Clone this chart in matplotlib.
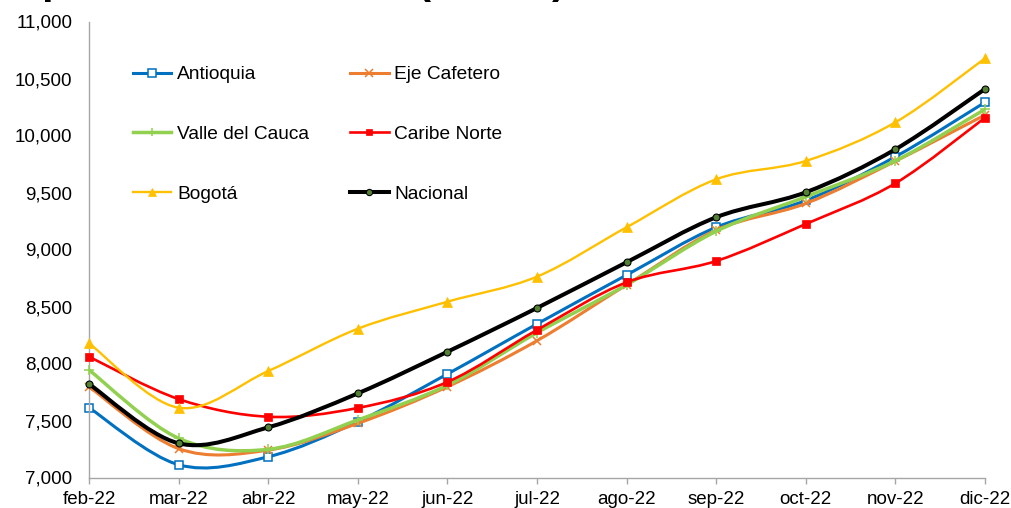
import matplotlib
matplotlib.use("Agg")
import matplotlib.pyplot as plt
from matplotlib.path import Path
from matplotlib.patches import PathPatch
from matplotlib.lines import Line2D
from matplotlib.ticker import FuncFormatter

plt.rcParams['font.family'] = ['Liberation Sans', 'DejaVu Sans']

# months on the x axis
months = ['feb-22', 'mar-22', 'abr-22', 'may-22', 'jun-22', 'jul-22',
          'ago-22', 'sep-22', 'oct-22', 'nov-22', 'dic-22']

# values
antioquia = [7612, 7112, 7182, 7490, 7908, 8347, 8776, 9195, 9430, 9814, 10291]
eje = [7795, 7253, 7240, 7475, 7796, 8200, 8690, 9170, 9404, 9775, 10180]
valle = [7943, 7344, 7247, 7505, 7810, 8270, 8690, 9160, 9463, 9779, 10230]
caribe = [8060, 7688, 7533, 7610, 7838, 8294, 8712, 8899, 9224, 9581, 10156]
bogota = [8177, 7612, 7934, 8305, 8542, 8762, 9195, 9616, 9777, 10116, 10677]
nacional = [7820, 7300, 7440, 7738, 8103, 8487, 8888, 9283, 9502, 9879, 10408]

yticks = [7000, 7500, 8000, 8500, 9000, 9500, 10000, 10500, 11000]


def smooth_path(xs, ys):
    # Excel-like smoothed line: cubic Bezier segments through the points
    pts = list(zip(xs, ys))
    verts = [pts[0]]
    codes = [Path.MOVETO]
    n = len(pts)
    for i in range(n - 1):
        p0 = pts[i - 1] if i > 0 else pts[i]
        p1 = pts[i]
        p2 = pts[i + 1]
        p3 = pts[i + 2] if i + 2 < n else pts[i + 1]
        c1 = (p1[0] + (p2[0] - p0[0]) / 6, p1[1] + (p2[1] - p0[1]) / 6)
        c2 = (p2[0] - (p3[0] - p1[0]) / 6, p2[1] - (p3[1] - p1[1]) / 6)
        verts += [c1, c2, p2]
        codes += [Path.CURVE4] * 3
    return Path(verts, codes)


series = [
    ('Antioquia', antioquia, dict(color='#0070C0', lw=2.2, marker='s', ms=6,
                                  mfc='white', mec='#0070C0', mew=1.1)),
    ('Eje Cafetero', eje, dict(color='#ED7D31', lw=2.2, marker='x', ms=6,
                               mfc='#ED7D31', mec='#ED7D31', mew=1.1)),
    ('Valle del Cauca', valle, dict(color='#92D050', lw=2.5, marker='+', ms=7,
                                    mfc='#92D050', mec='#92D050', mew=1.1)),
    ('Caribe Norte', caribe, dict(color='#FF0000', lw=1.9, marker='s', ms=5.5,
                                  mfc='#FF0000', mec='#FF0000', mew=0.5)),
    ('Bogotá', bogota, dict(color='#FFC000', lw=1.7, marker='^', ms=6.5,
                            mfc='#FFC000', mec='#FFC000', mew=0.5)),
    ('Nacional', nacional, dict(color='black', lw=2.9, marker='o', ms=5,
                                mfc='#548235', mec='black', mew=0.8)),
]

fig = plt.figure(figsize=(10.11, 5.08), dpi=100)
ax = fig.add_axes([89 / 1011, 1 - 477.5 / 508, (985 - 89) / 1011, (477.5 - 21.5) / 508])

x = list(range(len(months)))
handles = {}
for z, (name, vals, st) in enumerate(series):
    patch = PathPatch(smooth_path(x, vals), facecolor='none', edgecolor=st['color'],
                      lw=st['lw'], zorder=2 + z, capstyle='round', joinstyle='round')
    ax.add_patch(patch)
    ax.plot(x, vals, linestyle='none', marker=st['marker'], ms=st['ms'],
            mfc=st['mfc'], mec=st['mec'], mew=st['mew'], zorder=2.5 + z, clip_on=False)
    handles[name] = Line2D([], [], color=st['color'], lw=st['lw'], marker=st['marker'],
                           ms=st['ms'] * 0.9, mfc=st['mfc'], mec=st['mec'], mew=st['mew'])

ax.set_xlim(0, len(months) - 1)
ax.set_ylim(7000, 11000)
ax.set_xticks(x)
ax.set_xticklabels(months)
ax.set_yticks(yticks)
ax.yaxis.set_major_formatter(FuncFormatter(lambda v, p: f'{int(v):,}'))

for s in ['top', 'right']:
    ax.spines[s].set_visible(False)
for s in ['left', 'bottom']:
    ax.spines[s].set_color('#A6A6A6')
    ax.spines[s].set_linewidth(1.0)

ax.tick_params(axis='x', length=4, width=1, color='#A6A6A6', labelsize=13.5, pad=6)
ax.tick_params(axis='y', length=0, labelsize=13.5, pad=12)

order = ['Antioquia', 'Valle del Cauca', 'Bogotá', 'Eje Cafetero', 'Caribe Norte', 'Nacional']
fig.legend([handles[k] for k in order], order, ncol=2, frameon=False,
           loc='upper left', bbox_to_anchor=(133 / 1011, 1 - 66 / 508),
           borderpad=0, borderaxespad=0, fontsize=13.8, handlelength=2.0,
           handletextpad=0.3, labelspacing=2.2, columnspacing=2.15)

# title of the original chart, cut off at the top edge
fig.text(-78 / 1011, 1 + 5.5 / 508, 'Tarifa promedio mensual ($/kWh)', fontsize=29.5,
         fontweight='bold', ha='left', va='baseline')

fig.savefig('out.png', dpi=100)
